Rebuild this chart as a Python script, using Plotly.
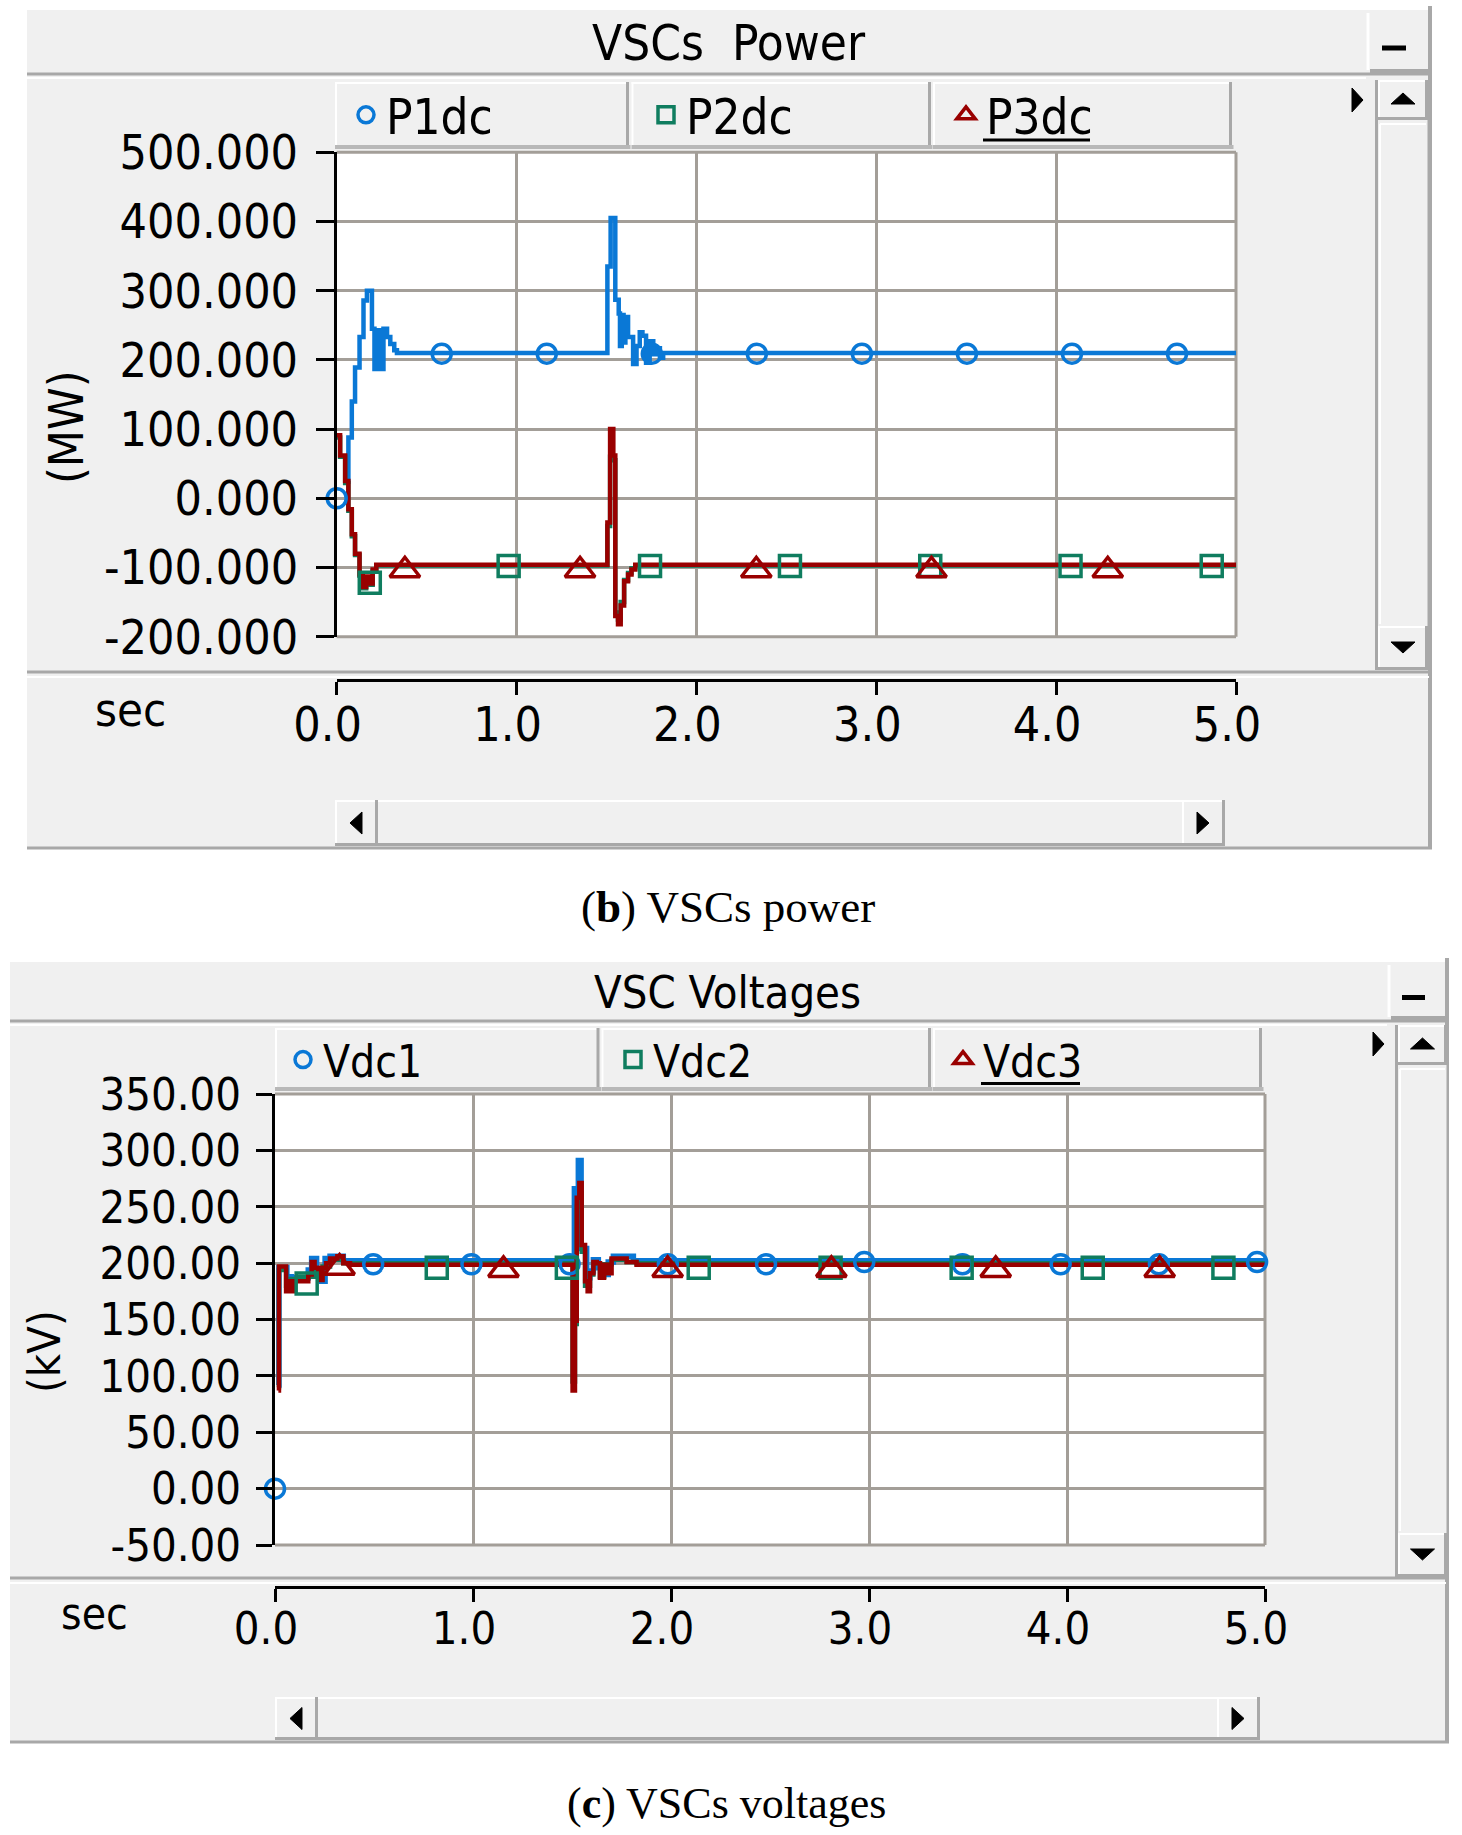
import plotly.graph_objects as go

# ---------------- data: VSCs power (MW) ----------------
P1_t = [0.05, 0.065, 0.084, 0.102, 0.127, 0.149, 0.168, 0.196, 0.21, 0.227, 0.246, 0.26, 0.28, 0.298, 0.32, 0.335,
        1.505, 1.523, 1.549, 1.568, 1.575, 1.585, 1.595, 1.605, 1.62, 1.648, 1.667, 1.685, 1.70, 1.72, 1.74, 1.76, 1.778,
        1.797, 1.815, 5.0]
P1_v = [24, 88, 140, 189, 233, 286, 300, 245, 187, 243, 187, 245, 233, 223, 214, 210,
        335, 405, 287, 267, 220, 265, 225, 262, 233, 194, 220, 240, 235, 196, 227, 208, 217,
        203, 210, 210]
P2_t = [0.0, 0.019, 0.047, 0.065, 0.084, 0.102, 0.127, 0.145, 0.164, 0.182, 0.2, 0.22,
        1.505, 1.52, 1.538, 1.549, 1.564, 1.579, 1.598, 1.62, 1.639, 1.66, 5.0]
P2_v = [88, 60, 22, -18, -55, -82, -112, -130, -115, -125, -105, -97,
        -40, 60, 55, -165, -175, -150, -118, -108, -101, -97, -97]
P3_t = [0.0, 0.019, 0.047, 0.065, 0.084, 0.102, 0.127, 0.145, 0.164, 0.182, 0.2, 0.22,
        1.505, 1.52, 1.538, 1.549, 1.564, 1.579, 1.598, 1.62, 1.639, 1.66, 5.0]
P3_v = [91, 62, 25, -16, -52, -80, -110, -128, -113, -123, -103, -96,
        -35, 100, 62, -170, -182, -155, -120, -110, -103, -96, -96]
P1_mk_t = [0.0, 0.584, 1.168, 1.752, 2.336, 2.92, 3.504, 4.088, 4.672]
P1_mk_v = [0, 209, 209, 209, 209, 209, 209, 209, 209]
P2_mk_t = [0.184, 0.956, 1.742, 2.52, 3.30, 4.08, 4.865]
P2_mk_v = [-122, -98, -98, -98, -98, -98, -98]
P3_mk_t = [0.379, 1.353, 2.333, 3.307, 4.287]
P3_mk_v = [-104, -104, -104, -104, -104]

# ---------------- data: VSC voltages (kV) ----------------
V1_t = [0.017, 0.02, 0.06, 0.084, 0.168, 0.185, 0.21, 0.236, 0.253, 0.278, 0.345,
        1.512, 1.532, 1.546, 1.574, 1.59, 1.608, 1.633, 1.658, 1.683, 1.709, 1.81, 5.0]
V1_v = [92, 196, 188, 187, 194, 204, 191, 184, 204, 206, 202,
        266, 291, 213, 187, 193, 203, 196, 190, 201, 206, 202, 202]
V2_t = [0.017, 0.02, 0.056, 0.08, 0.12, 0.2, 0.219, 0.24, 0.278, 0.345,
        1.503, 1.515, 1.524, 1.537, 1.549, 1.566, 1.591, 1.608, 1.641, 1.662, 1.7, 1.776, 1.826, 5.0]
V2_v = [90, 194, 180, 186, 188, 194, 186, 197, 203, 200,
        95, 146, 250, 262, 210, 180, 190, 200, 188, 199, 203, 201, 200, 200]
V3_t = [0.017, 0.02, 0.056, 0.072, 0.084, 0.096, 0.168, 0.185, 0.2, 0.219, 0.24, 0.258, 0.278, 0.315, 0.345, 0.379,
        1.503, 1.515, 1.524, 1.537, 1.549, 1.566, 1.579, 1.591, 1.608, 1.625, 1.641, 1.662, 1.678, 1.7, 1.776, 1.826, 5.0]
V3_v = [87, 197, 175, 184, 175, 184, 190, 201, 196, 185, 196, 200, 204, 206, 200, 198.5,
        87, 149, 258, 271, 216, 184, 175, 191, 201, 200, 187, 198.5, 191, 204, 201, 198.5, 198.5]
V1_mk_t = [0.0, 0.496, 0.992, 1.488, 1.984, 2.48, 2.976, 3.472, 3.968, 4.464, 4.96]
V1_mk_v = [0, 199, 199, 199, 199, 199, 201, 199, 199, 199, 201]
V2_mk_t = [0.16, 0.817, 1.474, 2.14, 2.806, 3.468, 4.13, 4.79]
V2_mk_v = [182, 196, 196, 196, 196, 196, 196, 196]
V3_mk_t = [0.326, 1.154, 1.983, 2.81, 3.64, 4.468]
V3_mk_v = [196, 194, 194, 194, 194, 194]

# ---------------- tick labels ----------------
P_ytick_vals = [500, 400, 300, 200, 100, 0, -100, -200]
P_ytick_text = ['500.000', '400.000', '300.000', '200.000', '100.000', '0.000', '-100.000', '-200.000']
V_ytick_vals = [350, 300, 250, 200, 150, 100, 50, 0, -50]
V_ytick_text = ['350.00', '300.00', '250.00', '200.00', '150.00', '100.00', '50.00', '0.00', '-50.00']
T_tick_vals = [0, 1, 2, 3, 4, 5]
T_tick_text = ['0.0', '1.0', '2.0', '3.0', '4.0', '5.0']

# ---------------- styling ----------------
W, H = 1462, 1835
FONT = "DejaVu Sans Condensed, DejaVu Sans, sans-serif"
SERIF = "Liberation Serif, DejaVu Serif, serif"
BLUE = "#0a78d6"
GREEN = "#0f7d5f"
RED = "#990000"
GRID = "#a39e98"
PANEL = "#f0f0f0"
EDGE = "#a8a8a8"


def X(px):
    return px / W


def Y(py):
    return 1 - py / H


shapes = []


def rect(x0, y0, x1, y1, fill, lc=None, lw=0, layer='below'):
    shapes.append(dict(type='rect', xref='paper', yref='paper', x0=X(x0), x1=X(x1), y0=Y(y0), y1=Y(y1),
                       fillcolor=fill, line=dict(color=lc or 'rgba(0,0,0,0)', width=lw), layer=layer))


def line(x0, y0, x1, y1, c, w, layer='below'):
    shapes.append(dict(type='line', xref='paper', yref='paper', x0=X(x0), x1=X(x1), y0=Y(y0), y1=Y(y1),
                       line=dict(color=c, width=w), layer=layer))


def tri(pts, c='black'):
    path = 'M ' + ' L '.join(f'{X(a):.6f},{Y(b):.6f}' for a, b in pts) + ' Z'
    shapes.append(dict(type='path', xref='paper', yref='paper', path=path, fillcolor=c,
                       line=dict(color=c, width=1), layer='below'))


def button(x0, y0, x1, y1):
    rect(x0, y0, x1, y1, PANEL)
    line(x0, y0 + 1, x1, y0 + 1, 'white', 2)
    line(x0 + 1, y0, x0 + 1, y1, 'white', 2)
    line(x0, y1 - 1.5, x1, y1 - 1.5, EDGE, 3)
    line(x1 - 1.5, y0, x1 - 1.5, y1, EDGE, 3)


def panel(p):
    # outer panel
    rect(p['x0'], p['y0'], p['x1'], p['y1'], PANEL)
    # title bar separator
    line(p['x0'], p['tb'], p['x1'], p['tb'], EDGE, 3)
    line(p['x0'], p['tb'] + 4, p['mbx0'] - 4, p['tb'] + 4, 'white', 2)
    # minus button
    rect(p['mbx0'], p['y0'] + 3, p['x1'] - 3, p['tb'] - 4, PANEL)
    line(p['mbx0'], p['tb'] - 3, p['x1'], p['tb'] - 3, EDGE, 4)
    line(p['mbx0'] - 2, p['y0'] + 3, p['mbx0'] - 2, p['tb'] - 4, 'white', 3)
    line(p['mx0'], p['my'], p['mx1'], p['my'], 'black', 5)
    # right / bottom edges
    line(p['x1'] + 1, p['y0'] - 4, p['x1'] + 1, p['y1'], EDGE, 4)
    line(p['x0'], p['y1'], p['x1'] + 3, p['y1'], EDGE, 3)
    # legend tabs
    for a, b in p['tabs']:
        rect(a, p['ly0'], b, p['ly1'], PANEL)
        line(a + 1, p['ly0'], a + 1, p['ly1'], 'white', 2)
        line(a, p['ly0'] + 1, b, p['ly0'] + 1, 'white', 2)
        line(b - 1, p['ly0'], b - 1, p['ly1'], EDGE, 3)
        line(a, p['ly1'] - 1, b + 2, p['ly1'] - 1, '#b8b8b8', 4)
    # plot area background and border
    rect(p['px0'], p['py0'], p['px1'], p['py1'], 'white')
    line(p['px0'], p['py0'], p['px1'], p['py0'], GRID, 3)
    line(p['px1'], p['py0'], p['px1'], p['py1'], GRID, 3)
    line(p['px0'], p['py1'], p['px1'], p['py1'], GRID, 3)
    # separator between plot panel and axis panel
    line(p['x0'], p['sep'], p['x1'], p['sep'], EDGE, 3)
    line(p['x0'], p['sep'] + 5, p['x1'], p['sep'] + 5, 'white', 2)
    # vertical scrollbar
    sx0, sx1, sy0, sy1 = p['vsb']
    rect(sx0, sy0, sx1, sy1, PANEL)
    line(sx0 + 1.5, sy0, sx0 + 1.5, sy1, EDGE, 3)
    line(sx1 + 0.5, sy0, sx1 + 0.5, sy1, EDGE, 2)
    button(sx0 + 3, sy0, sx1, sy0 + 40)
    line(sx0 + 5, sy0 + 44, sx1 - 2, sy0 + 44, 'white', 2)
    line(sx0 + 5, sy0 + 44, sx0 + 5, sy1 - 46, 'white', 2)
    button(sx0 + 3, sy1 - 44, sx1, sy1)
    cx = (sx0 + 3 + sx1) / 2
    tri([(cx - 12, sy0 + 24), (cx + 12, sy0 + 24), (cx, sy0 + 13)])
    tri([(cx - 12, sy1 - 28), (cx + 12, sy1 - 28), (cx, sy1 - 17)])
    # small pointer triangle
    tx, ty = p['ptr']
    tri([(tx, ty - 12), (tx + 11, ty), (tx, ty + 12)])
    # horizontal scrollbar
    hx0, hx1, hy0, hy1 = p['hsb']
    rect(hx0, hy0, hx1, hy1, PANEL)
    line(hx0, hy0 + 1, hx1, hy0 + 1, 'white', 2)
    line(hx0, hy1 - 1.5, hx1, hy1 - 1.5, EDGE, 3)
    button(hx0, hy0, hx0 + 43, hy1)
    button(hx1 - 43, hy0, hx1, hy1)
    cy = (hy0 + hy1) / 2
    tri([(hx0 + 27, cy - 11), (hx0 + 15, cy), (hx0 + 27, cy + 11)])
    tri([(hx1 - 28, cy - 11), (hx1 - 16, cy), (hx1 - 28, cy + 11)])


top = dict(x0=27, y0=10, x1=1429, y1=848, tb=74, mbx0=1370, mx0=1382, mx1=1406, my=48,
           tabs=[(335, 628.5), (631.5, 930.5), (933, 1231.5)], ly0=82, ly1=148,
           px0=336.7, py0=152.3, px1=1236, py1=636.7, sep=672,
           vsb=(1375, 1428, 80, 670), ptr=(1352, 100), hsb=(335, 1225, 800, 846))
bot = dict(x0=10, y0=962, x1=1446, y1=1742, tb=1021, mbx0=1391, mx0=1402, mx1=1425, my=997.5,
           tabs=[(275, 599), (601.5, 930.5), (933, 1261.5)], ly0=1028, ly1=1090,
           px0=275, py0=1094, px1=1265, py1=1545, sep=1578,
           vsb=(1395, 1447, 1025, 1577), ptr=(1373, 1044), hsb=(275, 1260, 1697, 1740))
panel(top)
panel(bot)

# underline of the last legend entries
line(983, 140, 1090, 140, 'black', 3, layer='above')
line(981, 1083.5, 1080, 1083.5, 'black', 3, layer='above')

fig = go.Figure()


def add_series(t, v, color, width, xa, ya):
    fig.add_trace(go.Scatter(x=t, y=v, mode='lines', line=dict(color=color, width=width, shape='hv'),
                             showlegend=False, hoverinfo='skip', xaxis=xa, yaxis=ya))


def add_markers(name, t, v, color, symbol, size, xa, ya, lg):
    fig.add_trace(go.Scatter(x=t, y=v, mode='markers', cliponaxis=False, name=name, legend=lg,
                             marker=dict(symbol=symbol, size=size, color=color,
                                         line=dict(color=color, width=3.5)),
                             showlegend=True, hoverinfo='skip', xaxis=xa, yaxis=ya))


# top chart
add_series(P1_t, P1_v, BLUE, 4.5, 'x', 'y')
add_series(P2_t, P2_v, GREEN, 4.5, 'x', 'y')
add_series(P3_t, P3_v, RED, 4.5, 'x', 'y')
add_markers('P1dc', P1_mk_t, P1_mk_v, BLUE, 'circle-open', 19, 'x', 'y', 'legend')
add_markers('P2dc', P2_mk_t, P2_mk_v, GREEN, 'square-open', 21, 'x', 'y', 'legend')
add_markers('P3dc', P3_mk_t, P3_mk_v, RED, 'triangle-up-open', 26, 'x', 'y', 'legend')

# bottom chart
add_series(V1_t, V1_v, BLUE, 5.5, 'x2', 'y2')
add_series(V2_t, V2_v, GREEN, 4.5, 'x2', 'y2')
add_series(V3_t, V3_v, RED, 4.5, 'x2', 'y2')
add_markers('Vdc1', V1_mk_t, V1_mk_v, BLUE, 'circle-open', 19, 'x2', 'y2', 'legend2')
add_markers('Vdc2', V2_mk_t, V2_mk_v, GREEN, 'square-open', 21, 'x2', 'y2', 'legend2')
add_markers('Vdc3', V3_mk_t, V3_mk_v, RED, 'triangle-up-open', 26, 'x2', 'y2', 'legend2')


def xaxis_cfg(p, pos, fs):
    return dict(domain=[X(p['px0']), X(p['px1'])], range=[0, 5], anchor='free', position=Y(pos),
                showline=True, linecolor='black', linewidth=3, ticks='outside', ticklen=13, tickwidth=3,
                tickcolor='black', tickvals=T_tick_vals, ticktext=T_tick_text,
                tickfont=dict(family=FONT, size=fs, color='black'),
                ticklabelshift=-9, ticklabelstandoff=-12, automargin=False,
                showgrid=True, gridcolor=GRID, gridwidth=3, zeroline=False, fixedrange=True)


def yaxis_cfg(p, rng, vals, text, xa, fs, tl, so):
    return dict(domain=[Y(p['py1']), Y(p['py0'])], range=rng, anchor=xa, automargin=False,
                showline=True, linecolor='black', linewidth=3, ticks='outside', ticklen=tl, tickwidth=3,
                tickcolor='black', tickvals=vals, ticktext=text,
                tickfont=dict(family=FONT, size=fs, color='black'), ticklabelstandoff=so,
                showgrid=True, gridcolor=GRID, gridwidth=3, zeroline=False, fixedrange=True)


legend_common = dict(orientation='h', xanchor='left', yanchor='middle', entrywidthmode='pixels',
                     bgcolor='rgba(0,0,0,0)', borderwidth=0, itemclick=False, itemdoubleclick=False,
                     traceorder='normal')

annotations = [
    dict(text='VSCs\u00a0\u00a0Power', x=X(729), y=Y(43), font=dict(family=FONT, size=49, color='black')),
    dict(text='VSC Voltages', x=X(727), y=Y(992), font=dict(family=FONT, size=45, color='black')),
    dict(text='(MW)', x=X(66), y=Y(427), textangle=-90, font=dict(family=FONT, size=48, color='black')),
    dict(text='(kV)', x=X(44), y=Y(1352), textangle=-90, font=dict(family=FONT, size=45, color='black')),
    dict(text='sec', x=X(93), y=Y(709), xanchor='left', font=dict(family=FONT, size=47, color='black')),
    dict(text='sec', x=X(59), y=Y(1613), xanchor='left', font=dict(family=FONT, size=44, color='black')),
    dict(text='(<b>b</b>) VSCs power', x=X(728), y=Y(907), font=dict(family=SERIF, size=45, color='black')),
    dict(text='(<b>c</b>) VSCs voltages', x=X(726), y=Y(1803), font=dict(family=SERIF, size=44, color='black')),
]
for a in annotations:
    a.update(xref='paper', yref='paper', showarrow=False)
    a.setdefault('xanchor', 'center')
    a.setdefault('yanchor', 'middle')

fig.update_layout(
    width=W, height=H, autosize=False,
    margin=dict(l=0, r=0, t=0, b=0, pad=0, autoexpand=False),
    paper_bgcolor='white', plot_bgcolor='rgba(0,0,0,0)',
    xaxis=xaxis_cfg(top, 680, 48),
    yaxis=yaxis_cfg(top, [-200, 500], P_ytick_vals, P_ytick_text, 'x', 48, 18, 8),
    xaxis2=xaxis_cfg(bot, 1586.5, 45),
    yaxis2=yaxis_cfg(bot, [-50, 350], V_ytick_vals, V_ytick_text, 'x2', 45, 16, 6),
    legend=dict(legend_common, x=X(346), y=Y(115), entrywidth=255,
                font=dict(family=FONT, size=49, color='black')),
    legend2=dict(legend_common, x=X(283), y=Y(1060), entrywidth=285,
                 font=dict(family=FONT, size=44, color='black')),
    shapes=shapes,
    annotations=annotations,
    showlegend=True,
)

fig.write_html("out.html", include_plotlyjs=True, config=dict(displayModeBar=False, staticPlot=True),
               post_script="document.body.style.margin='0';")
